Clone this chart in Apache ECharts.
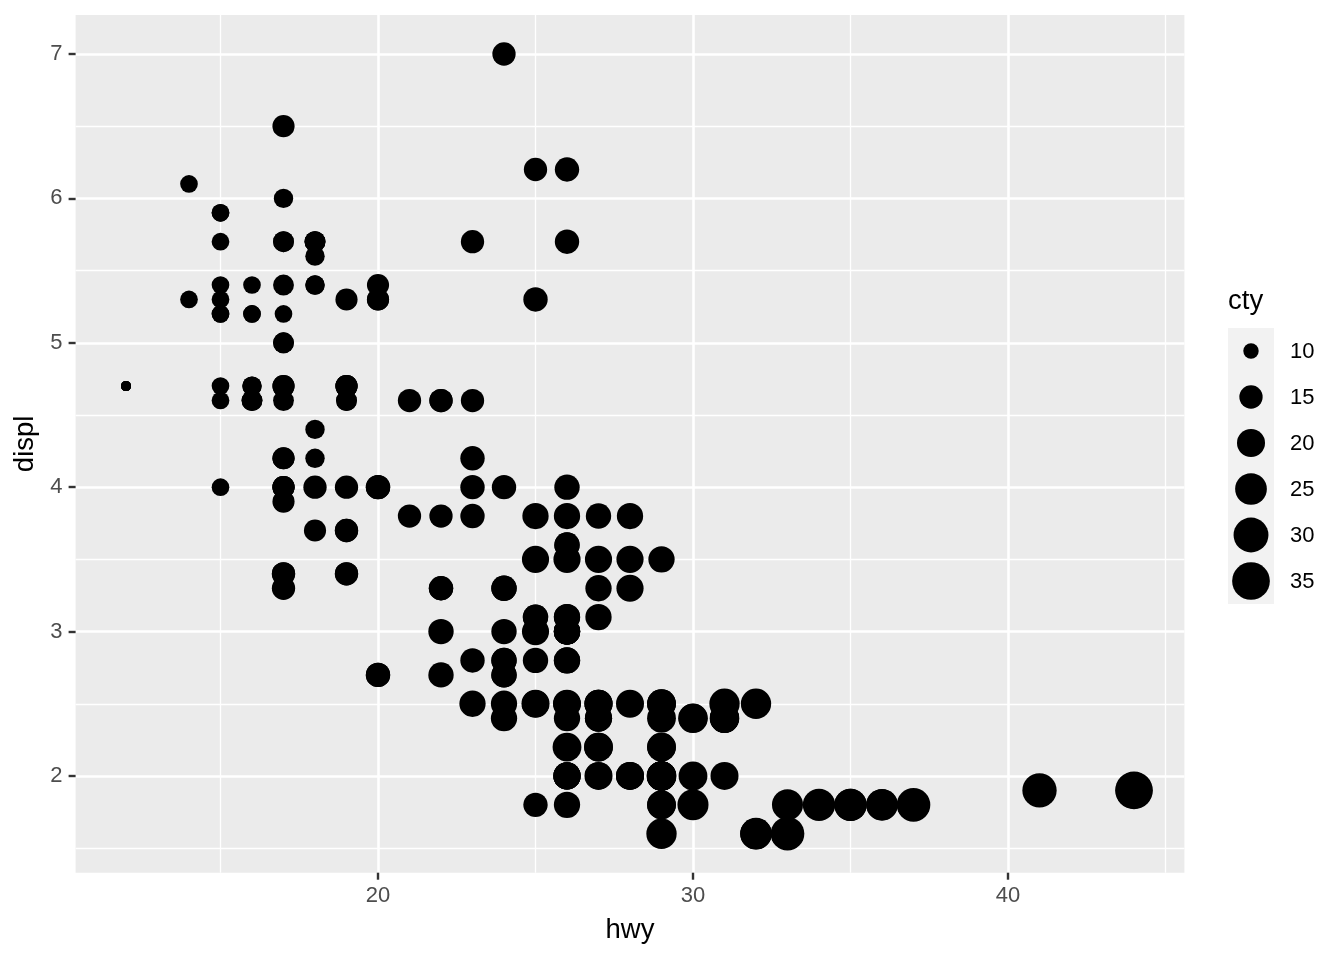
<!DOCTYPE html>
<html><head><meta charset="utf-8">
<script src="https://cdn.jsdelivr.net/npm/echarts@6/dist/echarts.min.js"></script>
<style>html,body{margin:0;padding:0;background:#fff}#c{width:1344px;height:960px}</style>
</head><body><div id="c"></div>
<script>
// mpg: displ, hwy, cty (in dataset order)
const displ = [1.8,1.8,2.0,2.0,2.8,2.8,3.1, 1.8,1.8,2.0,2.0,2.8,2.8,3.1,3.1, 2.8,3.1,4.2,
 5.3,5.3,5.3,5.7,6.0, 5.7,5.7,6.2,6.2,7.0, 5.3,5.3,5.7,6.5, 2.4,2.4,3.1,3.5,3.6,
 2.4,3.0,3.3,3.3,3.3,3.3,3.3,3.8,3.8,3.8,4.0, 3.7,3.7,3.9,3.9,4.7,4.7,4.7,5.2,5.2,
 3.9,4.7,4.7,4.7,5.2,5.7,5.9, 4.7,4.7,4.7,4.7,4.7,4.7,5.2,5.2,5.7,5.9,
 4.6,5.4,5.4, 4.0,4.0,4.0,4.0,4.6,5.0, 4.2,4.2,4.6,4.6,4.6,5.4,5.4,
 3.8,3.8,4.0,4.0,4.6,4.6,4.6,4.6,5.4, 1.6,1.6,1.6,1.6,1.6,1.8,1.8,1.8,2.0,
 2.4,2.4,2.4,2.4,2.5,2.5,3.3, 2.0,2.0,2.0,2.0,2.7,2.7,2.7,
 3.0,3.7,4.0,4.7,4.7,4.7,5.7,6.1, 4.0,4.2,4.4,4.6, 5.4,5.4,5.4, 4.0,4.0,4.6,5.0,
 2.4,2.4,2.5,2.5,3.5,3.5, 3.0,3.0,3.5, 3.3,3.3,4.0,5.6, 3.1,3.8,3.8,3.8,5.3,
 2.5,2.5,2.5,2.5,2.5,2.5, 2.2,2.2,2.5,2.5,2.5,2.5,2.5,2.5, 2.7,2.7,3.4,3.4,4.0,4.7,
 2.2,2.2,2.4,2.4,3.0,3.0,3.5, 2.2,2.2,2.4,2.4,3.0,3.0,3.3, 1.8,1.8,1.8,1.8,1.8,
 4.7,5.7, 2.7,2.7,2.7,3.4,3.4,4.0,4.0, 2.0,2.0,2.0,2.0,2.8,
 1.9,2.0,2.0,2.0,2.0,2.5,2.5,2.8,2.8, 1.9,1.9,2.0,2.0,2.5,2.5, 1.8,1.8,2.0,2.0,2.8,2.8,3.6];
const hwy = [29,29,31,30,26,26,27, 26,25,28,27,25,25,25,25, 24,25,23,
 20,15,20,17,17, 26,23,26,25,24, 19,14,15,17, 27,30,26,29,26,
 24,24,22,22,24,24,17,22,21,23,23, 19,18,17,17,19,19,12,17,15,
 17,17,12,17,16,18,15, 16,12,17,17,16,12,15,16,17,15,
 17,17,18, 17,19,17,19,19,17, 17,17,16,16,17,15,17,
 26,25,26,24,21,22,23,22,20, 33,32,32,29,32,34,36,36,29,
 26,27,30,31,26,26,28, 26,29,28,27,24,24,24,
 22,19,20,17,12,19,18,14, 15,18,18,15, 17,16,18, 17,19,19,17,
 29,27,31,32,27,26, 26,25,25, 17,17,20,18, 26,26,27,28,25,
 25,24,27,25,26,23, 26,26,26,26,25,27,25,27, 20,20,19,17,20,17,
 29,27,31,31,26,26,28, 27,29,31,31,26,26,27, 30,33,35,37,35,
 15,18, 20,20,22,17,19,18,20, 29,26,29,29,24,
 44,29,26,29,29,29,29,23,24, 44,41,29,26,28,29, 29,29,28,29,26,26,26];
const cty = [18,21,20,21,16,18,18, 18,16,20,19,15,17,17,15, 15,17,16,
 14,11,14,13,12, 16,15,16,15,15, 14,11,11,14, 19,22,18,18,17,
 18,17,16,16,17,17,11,15,15,16,16, 15,14,13,14,14,14,9,11,11,
 13,13,9,13,11,13,11, 12,9,13,13,12,9,11,11,13,11,
 11,11,12, 14,15,14,13,13,13, 14,14,13,13,13,11,13,
 18,18,17,16,15,15,15,15,14, 28,24,25,23,24,26,25,24,21,
 18,18,21,21,18,18,19, 19,19,20,20,17,16,17,
 17,15,15,14,9,14,13,11, 11,12,12,11, 11,11,12, 14,13,13,13,
 21,19,23,23,19,19, 18,19,19, 14,15,14,12, 18,16,17,18,16,
 18,18,20,19,20,18, 21,19,19,19,20,20,19,20, 15,16,15,15,16,14,
 21,21,21,21,18,18,19, 21,21,21,22,18,18,18, 24,24,26,28,26,
 11,13, 15,16,17,15,15,15,16, 21,19,21,22,17,
 33,21,19,22,21,21,21,16,17, 35,29,21,19,20,20, 21,18,19,21,16,18,17];

const xMajor = [20, 30, 40];
const xMinor = [15, 25, 35, 45];
const yMajor = [2, 3, 4, 5, 6, 7];
const yMinor = [1.5, 2.5, 3.5, 4.5, 5.5, 6.5];
const legendBreaks = [10, 15, 20, 25, 30, 35];

const ctyMin = Math.min(...cty), ctyMax = Math.max(...cty);
function pointDiameter(v) {
  const t = (v - ctyMin) / (ctyMax - ctyMin);
  const sizeMm = 1 + 5 * Math.sqrt(Math.max(0, t));
  return 5.54 * sizeMm + 4.46;
}
const pts = hwy.map((h, i) => [h, displ[i], cty[i]]);

const FONT = 'Liberation Sans, Arial, sans-serif';
const xPad = (Math.max(...hwy) - Math.min(...hwy)) * 0.05;
const yPad = (Math.max(...displ) - Math.min(...displ)) * 0.05;

const gridLines = [];
xMinor.forEach(v => gridLines.push({xAxis: v, lineStyle: {width: 1.3}}));
yMinor.forEach(v => gridLines.push({yAxis: v, lineStyle: {width: 1.3}}));
xMajor.forEach(v => gridLines.push({xAxis: v, lineStyle: {width: 2.6}}));
yMajor.forEach(v => gridLines.push({yAxis: v, lineStyle: {width: 2.6}}));

// legend graphics
const legX = 1228, legTop = 328, keyH = 46, keyW = 46;
const graphics = [
  {type: 'text', left: legX, top: 287, style: {text: 'cty', font: '27.5px ' + FONT, fill: '#000'}},
  {type: 'rect', shape: {x: legX, y: legTop, width: keyW, height: keyH * legendBreaks.length}, style: {fill: '#F2F2F2'}}
];
legendBreaks.forEach((b, i) => {
  const cy = legTop + keyH * i + keyH / 2;
  graphics.push({type: 'circle', shape: {cx: legX + keyW / 2, cy: cy, r: pointDiameter(b) / 2}, style: {fill: '#000'}});
  graphics.push({type: 'text', x: 1290, y: cy + 1, style: {text: String(b), font: '22px ' + FONT, fill: '#000', textVerticalAlign: 'middle'}});
});

const chart = echarts.init(document.getElementById('c'), null, {renderer: 'canvas'});
chart.setOption({
  animation: false,
  backgroundColor: '#fff',
  grid: {left: 75.6, right: 159.6, top: 15, bottom: 87.3, show: true, backgroundColor: '#EBEBEB', borderWidth: 0},
  xAxis: {
    type: 'value', min: Math.min(...hwy) - xPad, max: Math.max(...hwy) + xPad,
    name: 'hwy', nameLocation: 'middle', nameGap: 44,
    nameTextStyle: {fontSize: 27.5, fontFamily: FONT, color: '#000'},
    axisLine: {show: false},
    axisTick: {show: true, customValues: xMajor, length: 7, lineStyle: {color: '#333333', width: 2.4}},
    axisLabel: {customValues: xMajor, fontSize: 22, fontFamily: FONT, color: '#4D4D4D', margin: 12},
    splitLine: {show: false}
  },
  yAxis: {
    type: 'value', min: Math.min(...displ) - yPad, max: Math.max(...displ) + yPad,
    name: 'displ', nameLocation: 'middle', nameGap: 36, nameRotate: 90,
    nameTextStyle: {fontSize: 27.5, fontFamily: FONT, color: '#000'},
    axisLine: {show: false},
    axisTick: {show: true, customValues: yMajor, length: 7, lineStyle: {color: '#333333', width: 2.4}},
    axisLabel: {customValues: yMajor, fontSize: 22, fontFamily: FONT, color: '#4D4D4D', margin: 13},
    splitLine: {show: false}
  },
  graphic: graphics,
  series: [
    {
      type: 'scatter', data: [], z: 0, silent: true,
      markLine: {z: 0, silent: true, symbol: ['none', 'none'], label: {show: false},
        lineStyle: {color: '#FFFFFF', type: 'solid'}, emphasis: {disabled: true}, data: gridLines}
    },
    {
      type: 'scatter', z: 10, data: pts,
      symbolSize: v => pointDiameter(v[2]),
      itemStyle: {color: '#000', opacity: 1}
    }
  ]
});
</script></body></html>
